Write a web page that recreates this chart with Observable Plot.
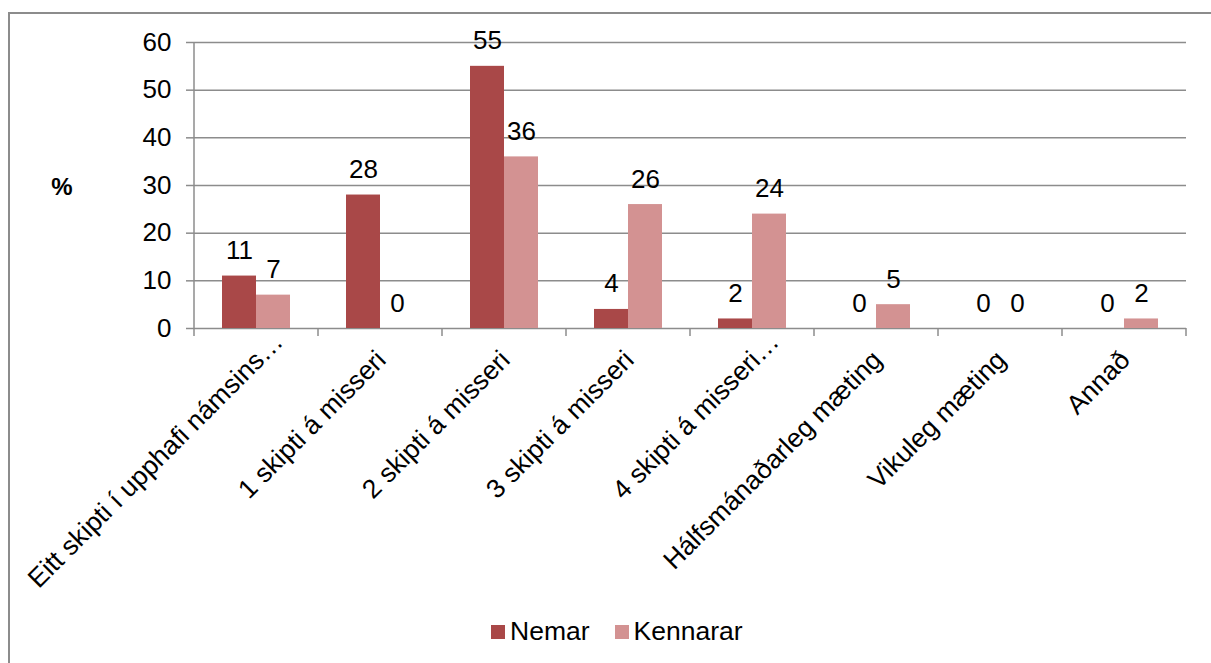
<!DOCTYPE html>
<html>
<head>
<meta charset="utf-8">
<script src="https://cdn.jsdelivr.net/npm/d3@7"></script>
<script src="https://cdn.jsdelivr.net/npm/@observablehq/plot@0.6"></script>
<style>
  html, body { margin: 0; padding: 0; background: #fff; overflow: hidden; }
  #wrap { position: relative; width: 1211px; height: 663px; font-family: "Liberation Sans", Arial, sans-serif; }
  #frame { position: absolute; left: 8px; top: 12px; width: 1300px; height: 700px; border: 2px solid #8c8c8c; box-sizing: border-box; }
  #chart { position: absolute; left: 0; top: 0; }
  #legend { position: absolute; left: 491px; top: 616px; display: flex; align-items: center; font-size: 26.5px; color: #000; }
  .sw { display: inline-block; width: 14px; height: 14px; margin-right: 5px; }
  .item { display: flex; align-items: center; margin-right: 25px; }
</style>
</head>
<body>
<div id="wrap">
  <div id="frame"></div>
  <div id="chart"></div>
  <div id="legend"></div>
</div>
<script>
const categories = [
  "Eitt skipti í upphafi námsins…",
  "1 skipti á misseri",
  "2 skipti á misseri",
  "3 skipti á misseri",
  "4 skipti á misseri…",
  "Hálfsmánaðarleg mæting",
  "Vikuleg mæting",
  "Annað"
];
const series = ["Nemar", "Kennarar"];
const nemar = [11, 28, 55, 4, 2, 0, 0, 0];
const kennarar = [7, 0, 36, 26, 24, 5, 0, 2];
const colors = ["#A94848", "#D39292"];
const yTicks = [0, 10, 20, 30, 40, 50, 60];

const data = [];
categories.forEach((c, i) => {
  data.push({category: c, series: series[0], value: nemar[i]});
  data.push({category: c, series: series[1], value: kennarar[i]});
});

const truncated = categories.filter(c => c.endsWith("…"));
const full = categories.filter(c => !c.endsWith("…"));

const W = 1211, H = 600;
const plot = Plot.plot({
  width: W,
  height: H,
  marginLeft: 193,
  marginRight: 25,
  marginTop: 42,
  marginBottom: H - 328,
  style: {fontFamily: "Liberation Sans, Arial, sans-serif", fontSize: "26px", color: "#000", background: "transparent"},
  fx: {domain: categories, padding: 0, label: null, axis: null},
  x: {domain: series, paddingInner: 0, paddingOuter: 0.773, axis: null},
  y: {domain: [0, 60], label: null},
  color: {domain: series, range: colors},
  marks: [
    Plot.gridY(yTicks, {stroke: "#8c8c8c", strokeOpacity: 1, strokeWidth: 1.5}),
    Plot.axisY({ticks: yTicks, tickSize: 8, tickPadding: 15, label: null, fontSize: 26, stroke: "#8c8c8c", strokeWidth: 1.5}),
    Plot.axisFx({ticks: full, anchor: "bottom", tickRotate: -45, tickSize: 0, tickPadding: 27, dx: 1, label: null, fontSize: 26.5}),
    Plot.axisFx({ticks: truncated, anchor: "bottom", tickRotate: -45, tickSize: 0, tickPadding: 9, dx: 22, label: null, fontSize: 26.5}),
    Plot.barY(data, {fx: "category", x: "series", y: "value", fill: "series"}),
    Plot.text(data, {fx: "category", x: "series", y: "value", text: d => String(d.value), lineAnchor: "bottom", dy: -17, fontSize: 26, fill: "#000"})
  ]
});
document.getElementById("chart").appendChild(plot);

// structural lines: y axis line and category boundary ticks, from the plot's own scales
const svg = d3.select(plot);
const fx = plot.scale("fx");
const y = plot.scale("y");
const y0 = y.apply(0), y60 = y.apply(60);
const bw = fx.bandwidth;
const bounds = categories.map(c => fx.apply(c));
bounds.push(fx.apply(categories[categories.length - 1]) + bw);
const g = svg.append("g").attr("stroke", "#8c8c8c").attr("stroke-width", 1.5);
g.append("line").attr("x1", bounds[0]).attr("x2", bounds[0]).attr("y1", y60).attr("y2", y0);
bounds.forEach(b => {
  g.append("line").attr("x1", b).attr("x2", b).attr("y1", y0).attr("y2", y0 + 8);
});

// "%" label
svg.append("text").attr("x", 62).attr("y", y.apply(30) + 4)
  .attr("text-anchor", "middle").attr("dominant-baseline", "middle")
  .attr("font-weight", "bold").attr("font-size", 24).text("%");

// legend
const leg = document.getElementById("legend");
series.forEach((s, i) => {
  const it = document.createElement("div");
  it.className = "item";
  const sw = document.createElement("span");
  sw.className = "sw";
  sw.style.background = colors[i];
  it.appendChild(sw);
  it.appendChild(document.createTextNode(s));
  leg.appendChild(it);
});
</script>
</body>
</html>
